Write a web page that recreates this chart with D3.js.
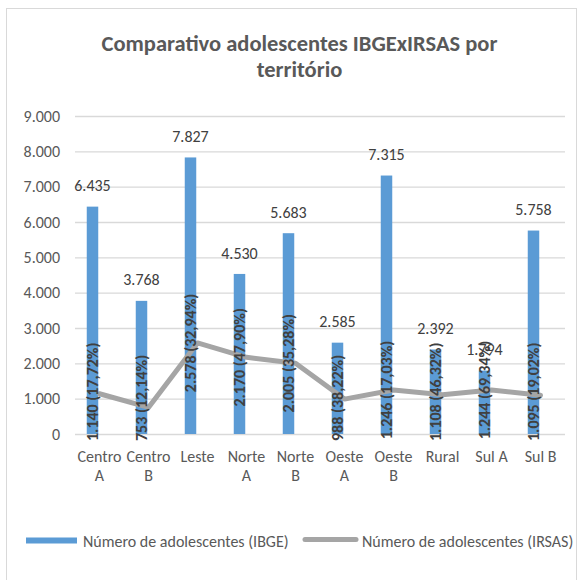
<!DOCTYPE html>
<html>
<head>
<meta charset="utf-8">
<script src="https://cdn.jsdelivr.net/npm/d3@7/dist/d3.min.js"></script>
<style>
  html, body { margin: 0; padding: 0; background: #fff; }
  svg text { font-family: Carlito, Lato, "Open Sans", sans-serif; }
</style>
</head>
<body>
<svg id="chart" width="581" height="580"></svg>
<script>
const categories = ["Centro A", "Centro B", "Leste", "Norte A", "Norte B", "Oeste A", "Oeste B", "Rural", "Sul A", "Sul B"];
const ibge = [6435, 3768, 7827, 4530, 5683, 2585, 7315, 2392, 1794, 5758];
const irsas = [1140, 753, 2578, 2170, 2005, 988, 1246, 1108, 1244, 1095];
const irsasPct = ["17,72%", "12,14%", "32,94%", "47,90%", "35,28%", "38,22%", "17,03%", "46,32%", "69,34%", "19,02%"];
const yTicks = [0, 1000, 2000, 3000, 4000, 5000, 6000, 7000, 8000, 9000];
const titleLines = ["Comparativo adolescentes IBGExIRSAS por", "território"];
const seriesNames = ["Número de adolescentes (IBGE)", "Número de adolescentes (IRSAS)"];

const fmt = d3.formatLocale({decimal: ",", thousands: ".", grouping: [3], currency: ["R$", ""]}).format(",.0f");

const svg = d3.select("#chart");
const textGray = "#595959", labelGray = "#404040";
const barColor = "#5B9BD5", lineColor = "#A5A5A5", gridColor = "#D9D9D9";
const fontSize = 16;

// chart border
svg.append("rect").attr("x", 6.5).attr("y", 8.5).attr("width", 570).attr("height", 600)
  .attr("fill", "#fff").attr("stroke", gridColor).attr("stroke-width", 1);

// title
const title = svg.append("text").attr("text-anchor", "middle")
  .attr("fill", textGray).attr("font-weight", "bold").attr("font-size", 22.5);
titleLines.forEach((t, i) => {
  title.append("tspan").attr("x", 299.5).attr("y", 51 + i * 25.5).text(t);
});

// scales
const x = d3.scaleBand().domain(categories).range([75, 565]).padding(0);
const y = d3.scaleLinear().domain([0, 9000]).range([434, 116]);
const barW = 11.5, barOff = -7;

// y axis with gridlines
const yAxis = svg.append("g").attr("transform", "translate(75,0)")
  .call(d3.axisLeft(y).tickValues(yTicks).tickSize(-490).tickPadding(15).tickFormat(d => fmt(d)));
yAxis.select(".domain").remove();
yAxis.selectAll(".tick line").attr("stroke", gridColor).attr("stroke-width", 1.3);
yAxis.selectAll(".tick text").attr("fill", textGray).attr("font-size", fontSize)
  .attr("font-family", "Carlito, Lato, 'Open Sans', sans-serif");

// bars
svg.append("g").selectAll("rect").data(categories).join("rect")
  .attr("x", (d) => x(d) + x.bandwidth() / 2 + barOff - barW / 2)
  .attr("y", (d, i) => y(ibge[i]))
  .attr("width", barW)
  .attr("height", (d, i) => y(0) - y(ibge[i]))
  .attr("fill", barColor);

// bar value labels
svg.append("g").selectAll("text").data(categories).join("text")
  .attr("x", (d) => x(d) + x.bandwidth() / 2 + barOff)
  .attr("y", (d, i) => y(ibge[i]) - 21)
  .attr("dy", "0.35em")
  .attr("text-anchor", "middle")
  .attr("fill", labelGray).attr("font-size", fontSize)
  .text((d, i) => fmt(ibge[i]));

// line
const line = d3.line()
  .x((d, i) => x(categories[i]) + x.bandwidth() / 2)
  .y(d => y(d));
svg.append("path").datum(irsas).attr("d", line)
  .attr("fill", "none").attr("stroke", lineColor).attr("stroke-width", 5)
  .attr("stroke-linejoin", "round").attr("stroke-linecap", "round");

// rotated line labels
const rl = svg.append("g").selectAll("text").data(categories).join("text")
  .attr("text-anchor", "middle")
  .attr("dy", "0.35em")
  .attr("fill", labelGray).attr("font-size", fontSize).attr("font-weight", "bold")
  .text((d, i) => fmt(irsas[i]) + " (" + irsasPct[i] + ")");
rl.each(function(d, i) {
  const len = this.getComputedTextLength();
  let cy = y(irsas[i]);
  if (cy + len / 2 > 441) cy = 441 - len / 2;
  const cx = x(d) + x.bandwidth() / 2 + barOff;
  d3.select(this).attr("transform", `translate(${cx},${cy}) rotate(-90)`);
});

// category labels (wrapped to band width)
const wrapWidth = 42;
const cat = svg.append("g").selectAll("text").data(categories).join("text")
  .attr("text-anchor", "middle").attr("fill", textGray).attr("font-size", fontSize)
  .attr("x", d => x(d) + x.bandwidth() / 2).attr("y", 462)
  .text(d => d);
cat.each(function(d) {
  const el = d3.select(this);
  if (this.getComputedTextLength() > wrapWidth) {
    const words = d.split(" ");
    el.text(null);
    words.forEach((w, j) => {
      el.append("tspan").attr("x", x(d) + x.bandwidth() / 2).attr("y", 462 + j * 19).text(w);
    });
  }
});

// legend
const lg = svg.append("g");
lg.append("rect").attr("x", 26).attr("y", 537.5).attr("width", 51).attr("height", 6).attr("fill", barColor);
lg.append("text").attr("x", 83).attr("y", 541).attr("dy", "0.35em").attr("fill", textGray)
  .attr("font-size", fontSize).text(seriesNames[0]);
lg.append("line").attr("x1", 305).attr("x2", 356).attr("y1", 539.5).attr("y2", 539.5)
  .attr("stroke", lineColor).attr("stroke-width", 5).attr("stroke-linecap", "round");
lg.append("text").attr("x", 362).attr("y", 541).attr("dy", "0.35em").attr("fill", textGray)
  .attr("font-size", fontSize).text(seriesNames[1]);
</script>
</body>
</html>
